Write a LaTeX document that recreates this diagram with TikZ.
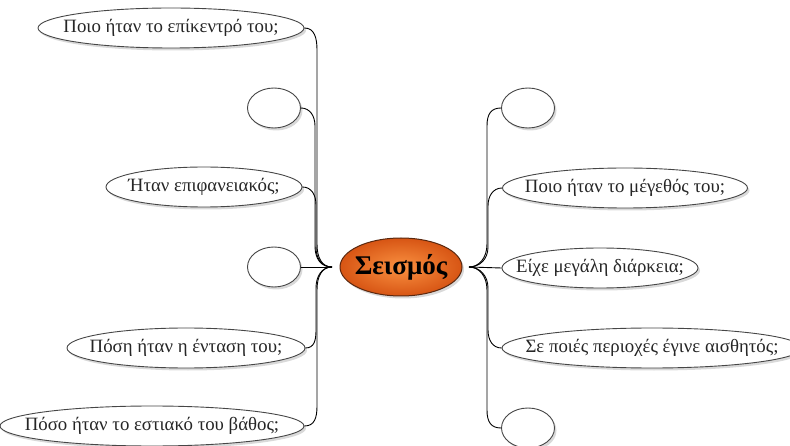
\documentclass[tikz,border=0pt]{standalone}
\usepackage{fontspec}
\setmainfont{Liberation Serif}
\usetikzlibrary{shapes.geometric,shadows}
\definecolor{edgegray}{RGB}{70,70,70}
\definecolor{orin}{RGB}{250,145,65}
\definecolor{orout}{RGB}{215,85,20}
\definecolor{orborder}{RGB}{90,40,15}
\tikzset{
  q/.style={ellipse, draw=edgegray, line width=0.9pt, fill=white, inner sep=0pt,
    minimum height=40pt,
    drop shadow={opacity=0.3, shadow xshift=2pt, shadow yshift=-2.5pt}},
  qt/.style={inner sep=0pt, font=\fontsize{18.8}{19}\selectfont, text=black!85},
  center/.style={ellipse, draw=orborder, line width=1pt, inner color=orin, outer color=orout,
    inner sep=0pt, minimum width=122pt, minimum height=58pt,
    drop shadow={opacity=0.3, shadow xshift=2pt, shadow yshift=-2.5pt}},
  ct/.style={inner sep=0pt, font=\fontsize{27}{27}\selectfont\bfseries, text=black},
  link/.style={draw=black, line width=0.9pt}
}
\begin{document}
\begin{tikzpicture}[x=1pt,y=-1pt]
\useasboundingbox (0,0) rectangle (790,446);
% center
\node[center, label={[ct]center:Σεισμός}] (S) at (401,267) {};
\coordinate (tipL) at (332,267);
\coordinate (tipR) at (469,267);
% left
\node[q, minimum width=266pt, label={[qt]center:Ποιο ήταν το επίκεντρό του;}] (L1) at (171,28) {};
\node[q, minimum width=53pt] (L2) at (274,108) {};
\node[q, minimum width=196pt, label={[qt]center:Ήταν επιφανειακός;}] (L3) at (204,187) {};
\node[q, minimum width=53pt] (L4) at (274,267) {};
\node[q, minimum width=238pt, label={[qt]center:Πόση ήταν η ένταση του;}] (L5) at (186,348) {};
\node[q, minimum width=304pt, label={[qt]center:Πόσο ήταν το εστιακό του βάθος;}] (L6) at (152,426) {};
% right
\node[q, minimum width=53pt] (R1) at (528,108) {};
\node[q, minimum width=245pt, label={[qt]center:Ποιο ήταν το μέγεθός του;}] (R2) at (625,188) {};
\node[q, minimum width=196pt, label={[qt]center:Είχε μεγάλη διάρκεια;}] (R3) at (600,268) {};
\node[q, minimum width=300pt, label={[qt]center:Σε ποιές περιοχές έγινε αισθητός;}] (R4) at (652,348) {};
\node[q, minimum width=53pt] (R5) at (528,428) {};
% left connectors
\draw[link] (L1.east) .. controls +(10,0) and +(0,-12) .. (317,50) -- (317,244) .. controls +(0,14) and +(-10,0) .. (tipL);
\draw[link] (L2.east) .. controls +(9,0) and +(0,-10) .. (315,126) -- (315,246) .. controls +(0,13) and +(-11,0) .. (tipL);
\draw[link] (L3.east) .. controls +(9,0) and +(0,-10) .. (316,205) -- (316,247) .. controls +(0,12) and +(-10,0) .. (tipL);
\draw[link] (L4.east) -- (tipL);
\draw[link] (L5.east) .. controls +(9,0) and +(0,10) .. (316,330) -- (316,288) .. controls +(0,-12) and +(-10,0) .. (tipL);
\draw[link] (L6.east) .. controls +(10,0) and +(0,12) .. (317,406) -- (317,290) .. controls +(0,-14) and +(-10,0) .. (tipL);
% right connectors
\draw[link] (R1.west) .. controls +(-10,0) and +(0,-12) .. (487,126) -- (487,244) .. controls +(0,14) and +(10,0) .. (tipR);
\draw[link] (R2.west) .. controls +(-9,0) and +(0,-10) .. (488,206) -- (488,247) .. controls +(0,12) and +(11,0) .. (tipR);
\draw[link] (R3.west) -- (tipR);
\draw[link] (R4.west) .. controls +(-9,0) and +(0,10) .. (488,330) -- (488,288) .. controls +(0,-12) and +(11,0) .. (tipR);
\draw[link] (R5.west) .. controls +(-10,0) and +(0,12) .. (487,410) -- (487,290) .. controls +(0,-14) and +(10,0) .. (tipR);
\end{tikzpicture}
\end{document}
